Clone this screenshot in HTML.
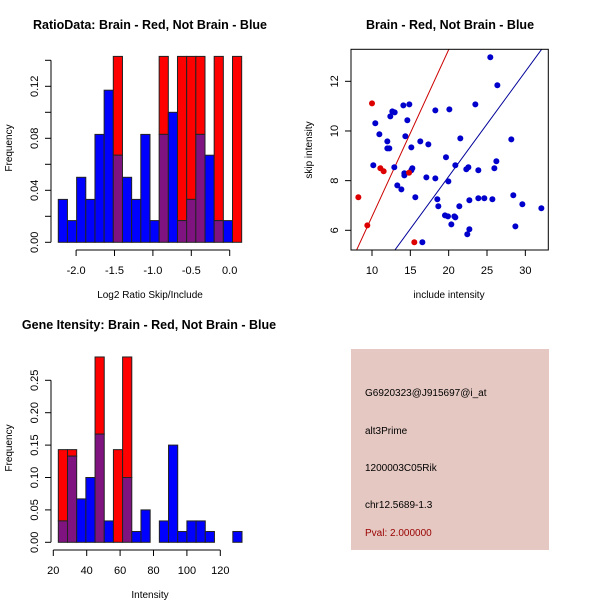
<!DOCTYPE html>
<html><head><meta charset="utf-8"><style>
body{margin:0;background:#fff}
svg{display:block;font-family:"Liberation Sans",sans-serif}
.t{font-weight:bold;font-size:12.5px}
.a{font-size:11px}
.s{font-size:10px}
</style></head><body>
<svg id="c" width="600" height="600" viewBox="0 0 600 600"></svg>
<script>
// Ratio histogram data
const ratioStart = -2.232, ratioWidth = 0.1194;
const ratioBlue = [0.033,0.0167,0.05,0.033,0.083,0.117,0.067,0.05,0.033,0.083,0.0167,0.083,0.1,0.0167,0.033,0.083,0.067,0.0167,0.0167,0];
const ratioRed  = [0,0,0,0,0,0,0.143,0,0,0,0,0.143,0,0.143,0.143,0.143,0,0.143,0,0.143];
const ratioXTicks = [-2.0,-1.5,-1.0,-0.5,0.0];
const ratioYTicks = [0,0.02,0.04,0.06,0.08,0.10,0.12,0.14];
const ratioYLabels = ["0.00","","0.04","","0.08","","0.12",""];
// Scatter data
const redX = [10.0,11.09,11.52,8.22,9.39,14.83,15.52];
const redY = [11.11,8.50,8.38,7.33,6.20,8.32,5.52];
const blueX = [25.43,26.35,14.09,14.87,20.09,23.48,18.26,12.65,12.96,12.39,14.61,10.43,10.96,14.35,28.17,12.0,16.30,21.52,17.35,12.0,12.26,15.13,19.65,10.17,12.91,20.87,26.22,25.96,22.30,22.57,23.87,15.26,15.13,14.22,14.22,17.09,18.26,19.96,13.30,13.83,15.65,18.52,28.43,22.70,23.87,24.65,25.70,29.61,32.09,18.65,21.39,19.52,19.91,20.74,20.87,20.35,22.70,28.70,22.43,16.57];
const blueY = [12.97,11.84,11.03,11.07,10.87,11.07,10.83,10.79,10.75,10.59,10.43,10.31,9.87,9.79,9.66,9.58,9.58,9.70,9.46,9.30,9.30,9.34,8.94,8.62,8.54,8.62,8.78,8.50,8.46,8.54,8.42,8.50,8.42,8.30,8.21,8.13,8.09,7.97,7.81,7.65,7.33,7.25,7.41,7.21,7.29,7.29,7.25,7.05,6.89,6.97,6.97,6.60,6.56,6.56,6.52,6.24,6.04,6.16,5.84,5.52];
const redLine = [0.672,-0.166]; // slope, intercept
const blueLine = [0.4224,-0.28];
const scXTicks = [10,15,20,25,30];
const scYTicks = [6,8,10,12];
// Intensity histogram data
const intStart = 23, intWidth = 5.5;
const intBlue = [0.033,0.133,0.067,0.1,0.167,0.033,0,0.1,0.0167,0.05,0,0.033,0.15,0.0167,0.033,0.033,0.0167,0,0,0.0167];
const intRed  = [0.143,0.143,0,0,0.286,0,0.143,0.286,0,0,0,0,0,0,0,0,0,0,0,0];
const intXTicks = [20,40,60,80,100,120];
const intYTicks = [0,0.05,0.10,0.15,0.20,0.25];
const intYLabels = ["0.00","0.05","0.10","0.15","0.20","0.25"];

const svg = document.getElementById('c');
const NS = 'http://www.w3.org/2000/svg';
function mk(tag, attrs, parent){const e=document.createElementNS(NS,tag);for(const k in attrs)e.setAttribute(k,attrs[k]);(parent||svg).appendChild(e);return e;}
function txt(s,attrs,parent){const e=mk('text',attrs,parent);e.textContent=s;return e;}

function hist(g, sx, sy, start, w, blue, red, fill){
  for(let i=0;i<blue.length;i++){
    const x0=sx(start+i*w), x1=sx(start+(i+1)*w);
    const b=blue[i], r=red[i], lo=Math.min(b,r), hi=Math.max(b,r);
    if(hi<=0) continue;
    if(hi>lo){
      const bar=mk('rect',{x:x0,y:sy(hi),width:x1-x0,height:sy(lo)-sy(hi),fill:b>r?'#0000ff':'#ff0000',stroke:'#222','stroke-width':1},g);
      
      
    }
    if(lo>0){
      const ov=mk('rect',{x:x0,y:sy(lo),width:x1-x0,height:sy(0)-sy(lo),fill:'#7f1480',stroke:'#222','stroke-width':1},g);
      
      
    }
  }
}

// Panel 1
(function(){
  const g=mk('g',{});
  
  
  const sx=v=>229.7+v*76.8, sy=v=>242.3-v*1300;
  txt('RatioData: Brain - Red, Not Brain - Blue',{x:150,y:29,'text-anchor':'middle',class:'t'},g);
  hist(g,sx,sy,ratioStart,ratioWidth,ratioBlue,ratioRed);
  mk('line',{x1:51,y1:sy(0),x2:51,y2:sy(0.14),stroke:'#000'},g);
  ratioYTicks.forEach((t,i)=>{mk('line',{x1:45,y1:sy(t),x2:51,y2:sy(t),stroke:'#000'},g);
    if(ratioYLabels[i]) txt(ratioYLabels[i],{x:0,y:0,transform:`translate(38,${sy(t)}) rotate(-90)`,'text-anchor':'middle',class:'a'},g);});
  mk('line',{x1:sx(-2),y1:250,x2:sx(0),y2:250,stroke:'#000'},g);
  ratioXTicks.forEach(t=>{mk('line',{x1:sx(t),y1:250,x2:sx(t),y2:256,stroke:'#000'},g);
    txt(t.toFixed(1),{x:sx(t),y:274,'text-anchor':'middle',class:'a'},g);});
  txt('Log2 Ratio Skip/Include',{x:150,y:298,'text-anchor':'middle',class:'s'},g);
  txt('Frequency',{x:0,y:0,transform:'translate(12,148) rotate(-90)','text-anchor':'middle',class:'s'},g);
})();

// Panel 2
(function(){
  const g=mk('g',{});
  
  
  const sx=v=>372+(v-10)*7.667, sy=v=>230.3-(v-6)*24.83;
  txt('Brain - Red, Not Brain - Blue',{x:450,y:29,'text-anchor':'middle',class:'t'},g);
  const clip=mk('clipPath',{id:'cp'},g); mk('rect',{x:351,y:49.3,width:197.3,height:200.7},clip);
  [[redLine,'#cc0000'],[blueLine,'#000099']].forEach(([l,c])=>{
    const ln=mk('line',{x1:sx(0),y1:sy(l[1]),x2:sx(40),y2:sy(l[0]*40+l[1]),stroke:c,'stroke-width':1,'clip-path':'url(#cp)'},g);
    
    
  });
  blueX.forEach((x,i)=>{const p=mk('circle',{cx:sx(x),cy:sy(blueY[i]),r:3,fill:'#0000cc'},g);
    
    });
  redX.forEach((x,i)=>{const p=mk('circle',{cx:sx(x),cy:sy(redY[i]),r:3,fill:'#dd0000'},g);
    
    });
  mk('rect',{x:351,y:49.3,width:197.3,height:200.7,fill:'none',stroke:'#000'},g);
  scXTicks.forEach(t=>{mk('line',{x1:sx(t),y1:250,x2:sx(t),y2:256,stroke:'#000'},g);
    txt(String(t),{x:sx(t),y:274,'text-anchor':'middle',class:'a'},g);});
  scYTicks.forEach(t=>{mk('line',{x1:345,y1:sy(t),x2:351,y2:sy(t),stroke:'#000'},g);
    txt(String(t),{x:0,y:0,transform:`translate(338,${sy(t)}) rotate(-90)`,'text-anchor':'middle',class:'a'},g);});
  txt('include intensity',{x:449,y:298,'text-anchor':'middle',class:'s'},g);
  txt('skip intensity',{x:0,y:0,transform:'translate(312,150) rotate(-90)','text-anchor':'middle',class:'s'},g);
})();

// Panel 3
(function(){
  const g=mk('g',{});
  
  
  const sx=v=>53.3+(v-20)*1.67, sy=v=>542.3-v*648;
  txt('Gene Itensity: Brain - Red, Not Brain - Blue',{x:149,y:329,'text-anchor':'middle',class:'t'},g);
  hist(g,sx,sy,intStart,intWidth,intBlue,intRed);
  mk('line',{x1:51,y1:sy(0),x2:51,y2:sy(0.25),stroke:'#000'},g);
  intYTicks.forEach((t,i)=>{mk('line',{x1:45,y1:sy(t),x2:51,y2:sy(t),stroke:'#000'},g);
    txt(intYLabels[i],{x:0,y:0,transform:`translate(38,${sy(t)}) rotate(-90)`,'text-anchor':'middle',class:'a'},g);});
  mk('line',{x1:sx(20),y1:550,x2:sx(120),y2:550,stroke:'#000'},g);
  intXTicks.forEach(t=>{mk('line',{x1:sx(t),y1:550,x2:sx(t),y2:556,stroke:'#000'},g);
    txt(String(t),{x:sx(t),y:574,'text-anchor':'middle',class:'a'},g);});
  txt('Intensity',{x:150,y:598,'text-anchor':'middle',class:'s'},g);
  txt('Frequency',{x:0,y:0,transform:'translate(12,448) rotate(-90)','text-anchor':'middle',class:'s'},g);
})();

// Info panel
(function(){
  const g=mk('g',{});
  
  
  mk('rect',{x:351,y:349,width:198,height:201,fill:'#e5c8c2'},g);
  const lines=[['G6920323@J915697@i_at',396,'#000'],['alt3Prime',434,'#000'],['1200003C05Rik',471,'#000'],['chr12.5689-1.3',508,'#000'],['Pval: 2.000000',536,'#990000']];
  lines.forEach(([s,y,c])=>{const t=txt(s,{x:365,y:y,fill:c,class:'s'},g);
    
    });
})();
</script>
</body></html>
